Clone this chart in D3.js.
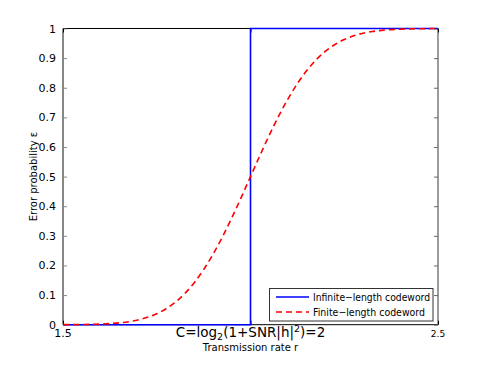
<!DOCTYPE html>
<html><head><meta charset="utf-8">
<script src="https://cdn.jsdelivr.net/npm/d3@7"></script>
<style>body{margin:0;background:#fff}svg{display:block;font-family:"DejaVu Sans",sans-serif}</style>
</head><body>
<svg id="c" width="485" height="366"></svg>
<script>
// Data
const rates = [1.5,1.525,1.55,1.575,1.6,1.625,1.65,1.675,1.7,1.725,1.75,1.775,1.8,1.825,1.85,1.875,1.9,1.925,1.95,1.975,2.0,
  2.025,2.05,2.075,2.1,2.125,2.15,2.175,2.2,2.225,2.25,2.275,2.3,2.325,2.35,2.375,2.4,2.425,2.45,2.475,2.5];
const finiteErr = [0.0002,0.0003,0.0007,0.0012,0.0021,0.0037,0.0062,0.0101,0.016,0.0248,0.037,0.054,0.0766,0.1056,0.142,0.186,0.2376,0.296,0.3605,0.429,0.5,
  0.571,0.6395,0.704,0.7624,0.814,0.858,0.8944,0.9234,0.946,0.963,0.9752,0.984,0.9899,0.9938,0.9963,0.9979,0.9988,0.9993,0.9997,0.9998];
const infRates = [1.5,2.0,2.0,2.5];
const infErr = [0,0,1,1];
const yTicks = [0,0.1,0.2,0.3,0.4,0.5,0.6,0.7,0.8,0.9,1];
const yTickLabels = ["0","0.1","0.2","0.3","0.4","0.5","0.6","0.7","0.8","0.9","1"];
const xTicks = [1.5,2,2.5];
const seriesNames = ["Infinite\u2212length codeword","Finite\u2212length codeword"];

const svg = d3.select("#c");
const L=63, R=438, T=28.5, B=324.7;
const x = d3.scaleLinear().domain([1.5,2.5]).range([L,R]);
const y = d3.scaleLinear().domain([0,1]).range([B,T]);

// frame spines
svg.append("line").attr("x1",L).attr("x2",R).attr("y1",T).attr("y2",T).attr("stroke","#000").attr("stroke-width",1);
svg.append("line").attr("x1",L).attr("x2",R).attr("y1",B).attr("y2",B).attr("stroke","#000").attr("stroke-width",1);
svg.append("line").attr("x1",L).attr("x2",L).attr("y1",T).attr("y2",B).attr("stroke","#888").attr("stroke-width",2);
svg.append("line").attr("x1",R).attr("x2",R).attr("y1",T).attr("y2",B).attr("stroke","#666").attr("stroke-width",1.3);

// y ticks (inward on both sides)
const yAxL = d3.axisLeft(y).tickValues(yTicks).tickSize(-4).tickPadding(7).tickFormat((d,i)=>yTickLabels[i]);
const gL = svg.append("g").attr("transform",`translate(${L},0)`).call(yAxL);
gL.select(".domain").remove();
gL.selectAll(".tick line").attr("stroke","#888").attr("stroke-width",1);
gL.selectAll(".tick text").attr("font-size",11).attr("fill","#000").attr("font-family","DejaVu Sans");
const yAxR = d3.axisRight(y).tickValues(yTicks).tickSize(-4).tickFormat("");
const gR = svg.append("g").attr("transform",`translate(${R},0)`).call(yAxR);
gR.select(".domain").remove();
gR.selectAll(".tick line").attr("stroke","#666").attr("stroke-width",1);

// x ticks (inward)
const xAxB = d3.axisBottom(x).tickValues(xTicks).tickSize(-4).tickFormat("");
const gB = svg.append("g").attr("transform",`translate(0,${B})`).call(xAxB);
gB.select(".domain").remove();
gB.selectAll(".tick line").attr("stroke","#000");
const xAxT = d3.axisTop(x).tickValues(xTicks).tickSize(-4).tickFormat("");
const gT = svg.append("g").attr("transform",`translate(0,${T})`).call(xAxT);
gT.select(".domain").remove();
gT.selectAll(".tick line").attr("stroke","#000");

// x tick labels
svg.append("text").attr("x",x(1.5)).attr("y",337).attr("text-anchor","middle").attr("font-size",11).text("1.5");
svg.append("text").attr("x",x(2.5)).attr("y",337.3).attr("text-anchor","middle").attr("font-size",9).text("2.5");
const cl = svg.append("text").attr("x",x(2)).attr("y",337.3).attr("text-anchor","middle").attr("font-size",13.5);
cl.append("tspan").text("C=log");
cl.append("tspan").attr("font-size",9.5).attr("dy",3).text("2");
cl.append("tspan").attr("dy",-3).text("(1+SNR|h|");
cl.append("tspan").attr("font-size",9.5).attr("dy",-5).text("2");
cl.append("tspan").attr("dy",5).text(")=2");

// axis labels
svg.append("text").attr("x",x(2)).attr("y",350.5).attr("text-anchor","middle").attr("font-size",10).text("Transmission rate r");
svg.append("text").attr("transform",`translate(37,${(T+B)/2}) rotate(-90)`).attr("text-anchor","middle").attr("font-size",10).text("Error probability \u03b5");

// lines
const line = d3.line().x(d=>x(d[0])).y(d=>y(d[1]));
const clipId="clp";
svg.append("clipPath").attr("id",clipId).append("rect").attr("x",L-2).attr("y",T-2).attr("width",R-L+4).attr("height",B-T+4);
svg.append("path").datum(infRates.map((r,i)=>[r,infErr[i]])).attr("d",line)
  .attr("fill","none").attr("stroke","#0000ff").attr("stroke-width",1.6).attr("clip-path",`url(#${clipId})`);
svg.append("path").datum(rates.map((r,i)=>[r,finiteErr[i]])).attr("d",d3.line().curve(d3.curveMonotoneX).x(d=>x(d[0])).y(d=>y(d[1])))
  .attr("fill","none").attr("stroke","#ff0000").attr("stroke-width",1.6).attr("stroke-dasharray","6,4").attr("clip-path",`url(#${clipId})`);

// legend
const lg = svg.append("g");
lg.append("rect").attr("x",269.5).attr("y",288.5).attr("width",163.5).attr("height",32.5).attr("fill","#fff").attr("stroke","#333").attr("stroke-width",1);
lg.append("line").attr("x1",276).attr("x2",309).attr("y1",297).attr("y2",297).attr("stroke","#0000ff").attr("stroke-width",1.6);
lg.append("line").attr("x1",276).attr("x2",309).attr("y1",312).attr("y2",312).attr("stroke","#ff0000").attr("stroke-width",1.6).attr("stroke-dasharray","6,4");
lg.append("text").attr("x",313).attr("y",300.5).attr("font-size",10).attr("textLength",117).attr("lengthAdjust","spacingAndGlyphs").text(seriesNames[0]);
lg.append("text").attr("x",313).attr("y",315.5).attr("font-size",10).attr("textLength",112).attr("lengthAdjust","spacingAndGlyphs").text(seriesNames[1]);
</script>
</body></html>
